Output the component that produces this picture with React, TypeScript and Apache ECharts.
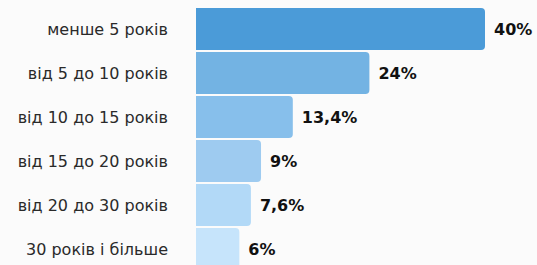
import React, { useEffect, useRef } from "react";
import * as echarts from "echarts";

const categories = [
  "менше 5 років",
  "від 5 до 10 років",
  "від 10 до 15 років",
  "від 15 до 20 років",
  "від 20 до 30 років",
  "30 років і більше",
];
const values = [40, 24, 13.4, 9, 7.6, 6];
const valueLabels = ["40%", "24%", "13,4%", "9%", "7,6%", "6%"];
const barColors = ["#4b9bd8", "#73b3e3", "#87bfeb", "#9ecbf0", "#b2d9f7", "#c6e4fb"];

export default function App() {
  const ref = useRef<HTMLDivElement>(null);
  useEffect(() => {
    if (!ref.current) return;
    const chart = echarts.init(ref.current, null, { renderer: "svg" });
    chart.setOption({
      animation: false,
      backgroundColor: "#fbfbfb",
      grid: {
        left: 196,
        top: 7,
        width: 289,
        height: 264,
        outerBoundsMode: "none",
      },
      xAxis: {
        type: "value",
        min: 0,
        max: 40,
        show: false,
      },
      yAxis: {
        type: "category",
        data: categories,
        inverse: true,
        axisLine: { show: false },
        axisTick: { show: false },
        splitLine: { show: false },
        axisLabel: {
          margin: 28,
          fontFamily: "DejaVu Sans",
          fontSize: 16,
          color: "#2a2a2a",
        },
      },
      series: [
        {
          type: "bar",
          barCategoryGap: "5%",
          data: values.map((v, i) => ({
            value: v,
            itemStyle: { color: barColors[i], borderRadius: [0, 4, 4, 0] },
          })),
          label: {
            show: true,
            position: "right",
            distance: 9,
            fontFamily: "DejaVu Sans",
            fontWeight: "bold",
            fontSize: 16,
            color: "#111111",
            formatter: (p: any) => valueLabels[p.dataIndex],
          },
        },
      ],
    });
    return () => chart.dispose();
  }, []);
  return (
    <div
      ref={ref}
      style={{ position: "fixed", left: 0, top: 0, width: 537, height: 265 }}
    />
  );
}
